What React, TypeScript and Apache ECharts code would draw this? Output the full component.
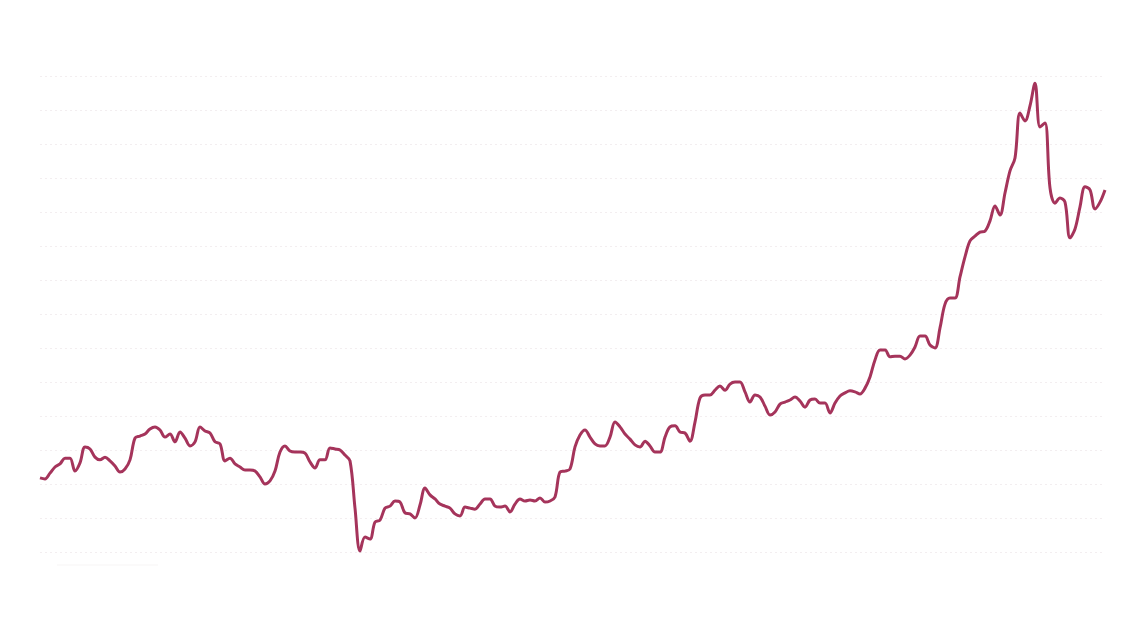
import React, { useEffect, useRef } from "react";
import * as echarts from "echarts";

// Series values (one point per ~5px step)
const seriesValues: number[] = [
  21.8, 21.5, 23.2, 25.0, 25.9, 27.6, 27.6, 23.8, 26.2, 30.9,
  30.3, 27.9, 27.1, 27.9, 26.8, 25.3, 23.5, 24.4, 27.1, 33.5,
  34.1, 34.7, 36.2, 36.8, 35.9, 33.8, 34.7, 32.4, 35.3, 33.5,
  31.2, 32.4, 36.8, 35.6, 35.0, 32.4, 31.8, 26.8, 27.6, 25.9,
  25.0, 24.1, 24.1, 23.8, 22.1, 20.0, 20.9, 23.8, 29.4, 31.2,
  29.7, 29.4, 29.4, 29.1, 26.5, 24.7, 27.1, 27.1, 30.6, 30.3,
  30.0, 28.5, 26.8, 12.9, 0.3, 4.4, 3.8, 8.8, 9.4, 12.9,
  13.5, 15.0, 14.7, 11.5, 11.2, 10.0, 13.8, 18.8, 16.8, 15.6,
  14.1, 13.5, 12.9, 11.2, 10.6, 13.2, 12.9, 12.6, 14.1, 15.6,
  15.6, 13.5, 13.2, 13.5, 11.8, 14.1, 15.6, 15.0, 15.3, 15.0,
  15.9, 14.7, 15.0, 16.2, 23.5, 23.8, 24.4, 30.9, 34.4, 35.9,
  33.8, 31.8, 31.2, 31.2, 33.8, 38.2, 36.8, 34.7, 33.2, 31.5,
  30.9, 32.6, 31.2, 29.4, 29.4, 33.8, 36.8, 37.1, 35.3, 35.0,
  32.6, 38.2, 45.3, 46.2, 46.2, 47.6, 48.8, 47.6, 49.4, 50.0,
  50.0, 47.1, 44.1, 46.2, 45.6, 42.9, 40.3, 41.2, 43.5, 44.1,
  44.7, 45.6, 44.4, 42.6, 44.7, 45.0, 43.8, 43.8, 40.9, 43.8,
  45.9, 46.8, 47.4, 47.1, 46.5, 48.2, 51.5, 56.5, 59.4, 59.4,
  57.4, 57.6, 57.6, 56.8, 57.9, 60.3, 63.5, 63.5, 60.9, 60.0,
  65.9, 72.9, 74.7, 74.7, 80.9, 86.8, 91.5, 92.9, 94.1, 94.4,
  97.4, 101.8, 99.1, 105.6, 112.1, 115.9, 129.1, 126.8, 131.2, 137.9,
  125.0, 126.2, 107.1, 102.6, 104.1, 102.9, 92.4, 95.0, 101.5, 107.4,
  106.5, 100.9, 102.9, 106.5,
];

const categories: string[] = seriesValues.map((_, i) => String(i + 1));

const yMin = 0;
const yMax = 140;
const yInterval = 10;

export default function App() {
  const ref = useRef<HTMLDivElement>(null);

  useEffect(() => {
    document.body.style.margin = "0";
    if (!ref.current) return;
    const chart = echarts.init(ref.current, null, { renderer: "svg" });
    chart.setOption({
      animation: false,
      backgroundColor: "#ffffff",
      grid: { left: 40, right: 33, top: 76, bottom: 88, containLabel: false },
      xAxis: {
        type: "category",
        data: categories,
        boundaryGap: false,
        axisLine: { show: false },
        axisTick: { show: false },
        axisLabel: { show: false },
        splitLine: { show: false },
      },
      yAxis: {
        type: "value",
        min: yMin,
        max: yMax,
        interval: yInterval,
        axisLine: { show: false },
        axisTick: { show: false },
        axisLabel: { show: false },
        splitLine: {
          show: true,
          lineStyle: { color: "#f3eef0", width: 1, type: [2, 3] },
        },
      },
      series: [
        {
          type: "line",
          data: seriesValues,
          smooth: 0.35,
          showSymbol: false,
          symbol: "none",
          lineStyle: { color: "#a5345b", width: 3 },
          itemStyle: { color: "#a5345b" },
        },
      ],
      graphic: [
        {
          type: "line",
          shape: { x1: 57, y1: 565, x2: 158, y2: 565 },
          style: { stroke: "#f7f5f5", lineWidth: 1 },
        },
      ],
    });
    return () => chart.dispose();
  }, []);

  return (
    <div
      ref={ref}
      style={{ position: "fixed", left: 0, top: 0, width: 1138, height: 640 }}
    />
  );
}
